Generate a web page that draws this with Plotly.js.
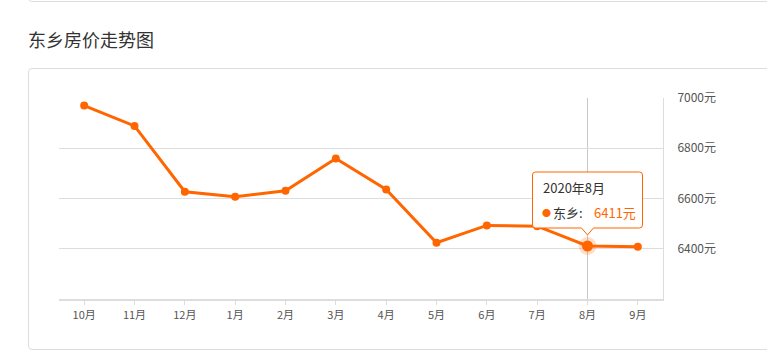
<!DOCTYPE html>
<html>
<head>
<meta charset="utf-8">
<script src="https://cdn.plot.ly/plotly-3.0.1.min.js"></script>
<style>
  html, body { margin:0; padding:0; width:767px; height:353px; overflow:hidden; background:#fff; }
  #topbox { position:absolute; left:28px; top:-20px; width:800px; border:1px solid #ddd; border-radius:4px; box-sizing:border-box; height:22px; }
  #box { position:absolute; left:28px; top:68px; width:800px; height:282px; border:1px solid #ddd; border-radius:4px; box-sizing:border-box; }
  #chart { position:absolute; left:0; top:0; width:767px; height:353px; }
</style>
</head>
<body>
<div id="topbox"></div>
<div id="box"></div>
<div id="chart"></div>
<script>
const chartTitle = '东乡房价走势图';
const seriesName = '东乡';
const months = ['10月','11月','12月','1月','2月','3月','4月','5月','6月','7月','8月','9月'];
const prices = [6970, 6889, 6627, 6607, 6631, 6759, 6636, 6424, 6493, 6490, 6411, 6408];
const yTicks = [6400, 6600, 6800, 7000];
const yTickText = yTicks.map(v => v + '元');
const hoverMonth = '8月';
const hoverLabel = '2020年8月';

const hi = months.indexOf(hoverMonth);
const hv = prices[hi];
const orange = '#ff6600';
const font = '"Noto Sans CJK SC", "Noto Sans", sans-serif';

const traces = [
  { x: months, y: prices, type: 'scatter', mode: 'lines+markers',
    line: { color: orange, width: 3 }, marker: { color: orange, size: 8 },
    hoverinfo: 'skip', showlegend: false },
  { x: [hoverMonth], y: [hv], type: 'scatter', mode: 'markers',
    marker: { color: 'rgba(255,102,0,0.22)', size: 18 }, hoverinfo: 'skip', showlegend: false },
  { x: [hoverMonth], y: [hv], type: 'scatter', mode: 'markers',
    marker: { color: orange, size: 11 }, hoverinfo: 'skip', showlegend: false }
];

const layout = {
  width: 767, height: 353,
  margin: { l: 59, r: 104, t: 98, b: 54 },
  paper_bgcolor: 'rgba(0,0,0,0)', plot_bgcolor: 'rgba(0,0,0,0)',
  font: { family: font, color: '#555' },
  title: { text: chartTitle, xref: 'container', yref: 'container', x: 28/767, xanchor: 'left',
           y: 1 - 41/353, yanchor: 'middle', font: { family: font, size: 18, color: '#333' } },
  hovermode: false,
  xaxis: {
    type: 'category', range: [-0.5, months.length - 0.5], fixedrange: true,
    showgrid: false, showline: true, linecolor: '#ddd', linewidth: 2,
    ticks: 'outside', ticklen: 4, tickcolor: '#ddd', tickwidth: 1,
    tickfont: { size: 11, color: '#555', family: font }, ticklabelstandoff: 1
  },
  yaxis: {
    side: 'right', range: [6200, 7000], fixedrange: true,
    tickvals: yTicks, ticktext: yTickText,
    showgrid: true, gridcolor: '#ddd', gridwidth: 1,
    showline: true, linecolor: '#ddd', linewidth: 1, zeroline: false,
    ticks: '', tickfont: { size: 12, color: '#555', family: font }, ticklabelstandoff: 11
  },
  shapes: [
    { type: 'line', xref: 'x', yref: 'paper', x0: hi, x1: hi, y0: 0, y1: 1,
      line: { color: '#c8c8c8', width: 1 }, layer: 'below' },
    { type: 'path', xref: 'x', yref: 'y', xsizemode: 'pixel', ysizemode: 'pixel',
      xanchor: hi, yanchor: hv, layer: 'above',
      path: 'M -52,74 L 52,74 Q 55,74 55,71 L 55,21 Q 55,18 52,18 L 6,18 L 0,11 L -6,18 L -52,18 Q -55,18 -55,21 L -55,71 Q -55,74 -52,74 Z',
      fillcolor: 'rgba(255,255,255,0.96)', line: { color: orange, width: 1 } }
  ],
  annotations: [
    { x: hi, y: hv, xref: 'x', yref: 'y', text: hoverLabel, showarrow: false,
      xanchor: 'left', yanchor: 'middle', xshift: -47, yshift: 58,
      font: { family: font, size: 13, color: '#333' } },
    { x: hi, y: hv, xref: 'x', yref: 'y', text: '●', showarrow: false,
      xanchor: 'left', yanchor: 'middle', xshift: -48, yshift: 33,
      font: { family: font, size: 9, color: orange } },
    { x: hi, y: hv, xref: 'x', yref: 'y', text: seriesName + ':', showarrow: false,
      xanchor: 'left', yanchor: 'middle', xshift: -37, yshift: 33,
      font: { family: font, size: 13, color: '#333' } },
    { x: hi, y: hv, xref: 'x', yref: 'y', text: hv + '元', showarrow: false,
      xanchor: 'left', yanchor: 'middle', xshift: 4, yshift: 33,
      font: { family: font, size: 13, color: orange } }
  ]
};

Plotly.newPlot('chart', traces, layout, { displayModeBar: false, staticPlot: true });
</script>
</body>
</html>
